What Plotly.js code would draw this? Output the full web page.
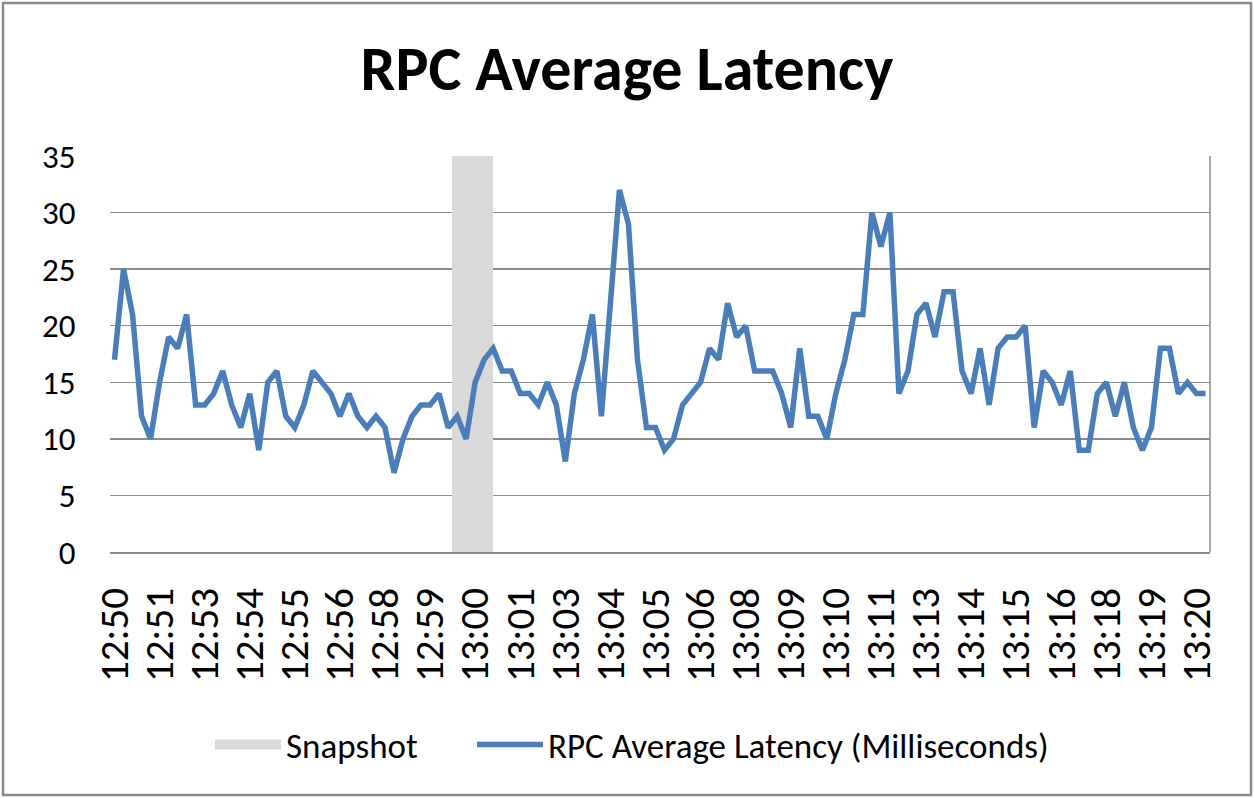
<!DOCTYPE html>
<html>
<head>
<meta charset="utf-8">
<script src="https://cdn.plot.ly/plotly-3.0.1.min.js"></script>
<style>
  html, body { margin: 0; padding: 0; background: #ffffff; }
  #chart { width: 1254px; height: 798px; }
</style>
</head>
<body>
<div id="chart"></div>
<script>
// Sample times: one reading every 15 seconds from 12:50:00 to 13:20:15
const startTime = "12:50:00";
const sampleCount = 122;
function buildTimes() {
  const out = [];
  const [h0, m0, s0] = startTime.split(":").map(Number);
  const base = h0 * 3600 + m0 * 60 + s0;
  for (let i = 0; i < sampleCount; i++) {
    const t = base + i * 15;
    const h = Math.floor(t / 3600), m = Math.floor((t % 3600) / 60), s = t % 60;
    out.push(String(h).padStart(2, "0") + ":" + String(m).padStart(2, "0") + ":" + String(s).padStart(2, "0"));
  }
  return out;
}
const sampleTimes = buildTimes();

// RPC average latency (milliseconds)
const latencyMs = [
  17, 25, 21, 12, 10, 15, 19, 18, 21, 13,
  13, 14, 16, 13, 11, 14,  9, 15, 16, 12,
  11, 13, 16, 15, 14, 12, 14, 12, 11, 12,
  11,  7, 10, 12, 13, 13, 14, 11, 12, 10,
  15, 17, 18, 16, 16, 14, 14, 13, 15, 13,
   8, 14, 17, 21, 12, 22, 32, 29, 17, 11,
  11,  9, 10, 13, 14, 15, 18, 17, 22, 19,
  20, 16, 16, 16, 14, 11, 18, 12, 12, 10,
  14, 17, 21, 21, 30, 27, 30, 14, 16, 21,
  22, 19, 23, 23, 16, 14, 18, 13, 18, 19,
  19, 20, 11, 16, 15, 13, 16,  9,  9, 14,
  15, 12, 15, 11,  9, 11, 18, 18, 14, 15,
  14, 14
];

// Snapshot marker
const snapshotTimes = ["13:00:00"];
const snapshotValues = [35];

// Axis tick labels (every 5th sample)
const tickLabels = [
  "12:50", "12:51", "12:53", "12:54", "12:55", "12:56", "12:58", "12:59",
  "13:00", "13:01", "13:03", "13:04", "13:05", "13:06", "13:08", "13:09",
  "13:10", "13:11", "13:13", "13:14", "13:15", "13:16", "13:18", "13:19", "13:20"
];
const tickPositions = sampleTimes.filter((_, i) => i % 5 === 0);

const FONT = "Calibri, Carlito, 'Open Sans', 'Noto Sans', sans-serif";
const GREY = "#d9d9d9";
const BLUE = "#4a7ebb";

const traces = [
  {
    type: "bar",
    name: "Snapshot",
    x: snapshotTimes,
    y: snapshotValues,
    width: 4.6,
    offset: -2.6,
    marker: { color: GREY, line: { width: 0 } },
    showlegend: false,
    legendgroup: "snap",
    hoverinfo: "skip"
  },
  {
    // legend swatch for the snapshot band
    type: "scatter",
    mode: "lines",
    name: "Snapshot",
    x: [snapshotTimes[0]],
    y: [null],
    line: { color: GREY, width: 20 },
    legendgroup: "snap",
    legend: "legend",
    hoverinfo: "skip"
  },
  {
    type: "scatter",
    mode: "lines",
    name: "RPC Average Latency (Milliseconds)",
    x: sampleTimes,
    y: latencyMs,
    line: { color: BLUE, width: 5.5 },
    legend: "legend2",
    hoverinfo: "skip"
  }
];

const legendCommon = {
  orientation: "h",
  xanchor: "left",
  y: -0.487,
  yanchor: "middle",
  font: { family: FONT, size: 35, color: "#000000" },
  bgcolor: "rgba(0,0,0,0)",
  itemwidth: 66
};

const layout = {
  width: 1254,
  height: 798,
  margin: { l: 110, r: 44, t: 156, b: 246 },
  paper_bgcolor: "#ffffff",
  plot_bgcolor: "#ffffff",
  font: { family: FONT, color: "#000000" },
  showlegend: true,
  title: {
    text: "<b>RPC Average Latency</b>",
    font: { family: FONT, size: 62, color: "#000000" },
    x: 0.5,
    xanchor: "center",
    xref: "container",
    y: 0.914,
    yanchor: "middle",
    yref: "container"
  },
  xaxis: {
    type: "category",
    categoryorder: "array",
    categoryarray: sampleTimes,
    range: [-0.5, sampleCount - 0.5],
    tickmode: "array",
    tickvals: tickPositions,
    ticktext: tickLabels,
    tickangle: -90,
    tickfont: { family: FONT, size: 41, color: "#000000" },
    ticks: "outside",
    ticklen: 18,
    tickcolor: "rgba(0,0,0,0)",
    showgrid: false,
    showline: true,
    linecolor: "#8c8c8c",
    linewidth: 1.5,
    zeroline: false,
    fixedrange: true
  },
  yaxis: {
    range: [0, 35],
    tickmode: "array",
    tickvals: [0, 5, 10, 15, 20, 25, 30, 35],
    tickfont: { family: FONT, size: 33, color: "#000000" },
    ticks: "outside",
    ticklen: 27,
    tickcolor: "rgba(0,0,0,0)",
    showgrid: true,
    gridcolor: "#8c8c8c",
    gridwidth: 1.5,
    zeroline: false,
    showline: false,
    fixedrange: true
  },
  bargap: 0,
  legend: Object.assign({}, legendCommon, { x: (210 - 110) / 1100 }),
  legend2: Object.assign({}, legendCommon, { x: (472 - 110) / 1100 }),
  shapes: [
    {
      type: "line", xref: "paper", yref: "paper",
      x0: 1, x1: 1, y0: 0, y1: 1,
      line: { color: "#8c8c8c", width: 1.5 }
    },
    {
      type: "rect", xref: "paper", yref: "paper",
      x0: (3 - 110) / 1100, x1: (1251 - 110) / 1100,
      y0: (552 - 795) / 396, y1: (552 - 3) / 396,
      line: { color: "#8c8c8c", width: 2.5 },
      fillcolor: "rgba(0,0,0,0)",
      layer: "below"
    }
  ]
};

Plotly.newPlot("chart", traces, layout, { displayModeBar: false, staticPlot: true });
</script>
</body>
</html>
